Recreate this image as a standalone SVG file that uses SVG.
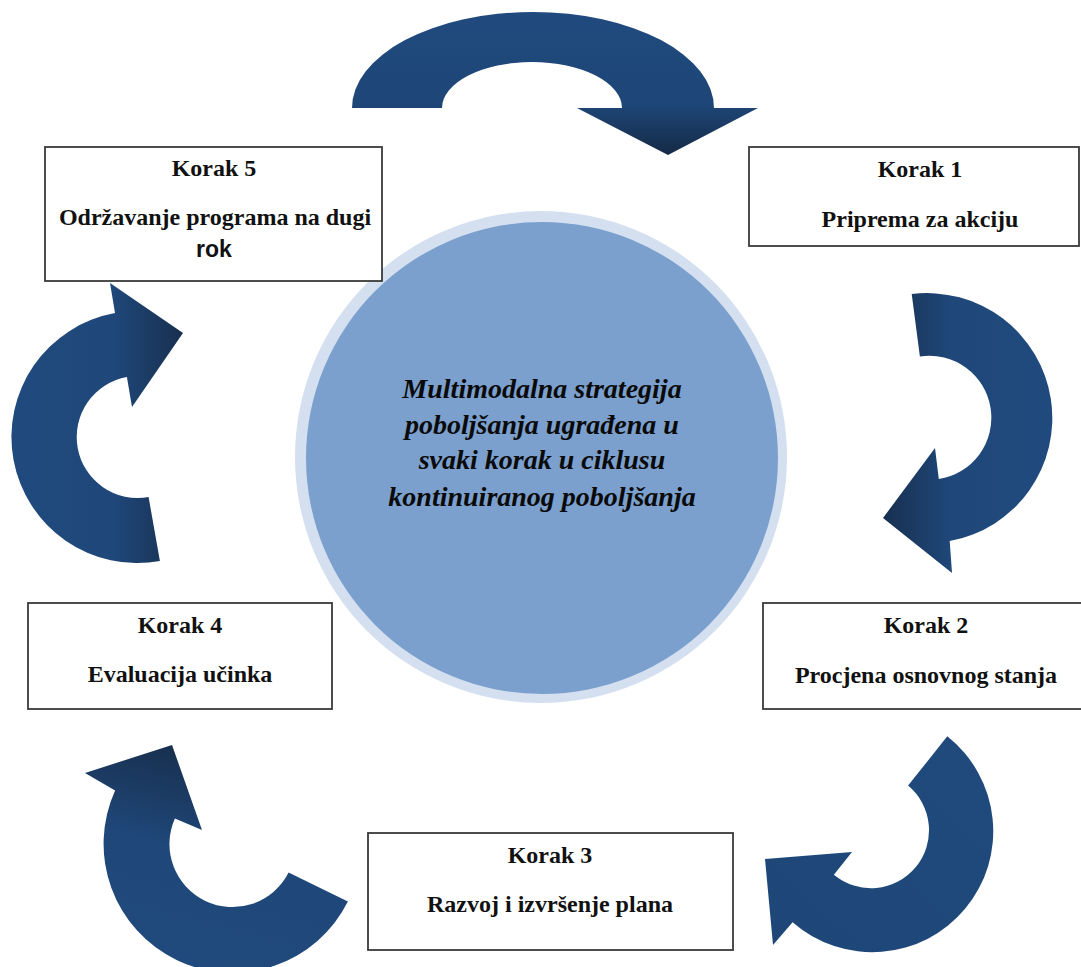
<svg xmlns="http://www.w3.org/2000/svg" width="1081" height="967" viewBox="0 0 1081 967">
  <style>
    .box { fill: #ffffff; stroke: #3a3a3a; stroke-width: 1.8; }
    .lbl { font-family: "Liberation Serif", "Times New Roman", serif; font-weight: bold; font-size: 24px; fill: #111111; text-anchor: middle; }
    .sans { font-family: "Liberation Sans", Arial, sans-serif; font-weight: bold; font-size: 23px; fill: #111111; text-anchor: middle; }
    .ctr { font-family: "Liberation Serif", "Times New Roman", serif; font-weight: bold; font-style: italic; font-size: 28px; fill: #0a0a0a; text-anchor: middle; }
  </style>
  <defs>
    <linearGradient id="gTop" x1="0" y1="0" x2="0" y2="1">
      <stop offset="0" stop-color="#204a7e"/>
      <stop offset="0.65" stop-color="#1e4677"/>
      <stop offset="1" stop-color="#152a46"/>
    </linearGradient>
    <linearGradient id="gRight" x1="1" y1="0" x2="0" y2="0">
      <stop offset="0" stop-color="#204a7e"/>
      <stop offset="0.6" stop-color="#1f4779"/>
      <stop offset="1" stop-color="#17304f"/>
    </linearGradient>
    <linearGradient id="gBR" x1="1" y1="0" x2="0" y2="1">
      <stop offset="0" stop-color="#204a7c"/>
      <stop offset="1" stop-color="#1e4778"/>
    </linearGradient>
    <linearGradient id="gBL" x1="0" y1="1" x2="0.3" y2="0">
      <stop offset="0" stop-color="#204a7e"/>
      <stop offset="0.6" stop-color="#1f4779"/>
      <stop offset="1" stop-color="#18304f"/>
    </linearGradient>
    <linearGradient id="gLeft" x1="0" y1="0" x2="1" y2="0">
      <stop offset="0" stop-color="#204a7e"/>
      <stop offset="0.6" stop-color="#1f4779"/>
      <stop offset="1" stop-color="#18304f"/>
    </linearGradient>
  </defs>
  <rect width="1081" height="967" fill="#ffffff"/>

  <g id="center">
    <circle cx="541" cy="457" r="246" fill="#d4e0f0"/>
    <circle cx="542" cy="458" r="236" fill="#7ba0cd"/>
    <text class="ctr" x="542" y="398">Multimodalna strategija</text>
    <text class="ctr" x="542" y="434">poboljšanja ugrađena u</text>
    <text class="ctr" x="542" y="469">svaki korak u ciklusu</text>
    <text class="ctr" x="542" y="506">kontinuiranog poboljšanja</text>
  </g>

  <g id="connectors">
    <path id="arrow-5-1" fill="url(#gTop)" d="M352,108 A181,96 0 0 1 714,108 L758,108 L668,155 L577,108 L622,108 A90,46 0 0 0 442,108 Z"/>
    <path id="arrow-1-2" fill="url(#gRight)" d="M911.7,294.1 A125,125 0 0 1 949.7,541.1 L952,573 L883,518 L935,448 L938.8,479.1 A62,62 0 0 0 919.9,356.5 Z"/>
    <path id="arrow-2-3" fill="url(#gBR)" d="M947.3,736.3 A121,121 0 1 1 792.6,922.3 L773,945 L765,859 L852,852 L833.9,874.8 A58,58 0 1 0 908.1,785.6 Z"/>
    <path id="arrow-3-4" fill="url(#gBL)" d="M347.9,901.6 A129,129 0 0 1 115.1,790.5 L85,773 L172,745 L202,830 L174.9,818.4 A63,63 0 0 0 288.6,872.6 Z"/>
    <path id="arrow-4-5" fill="url(#gLeft)" d="M159.9,561.1 A126,126 0 0 1 115,313.1 L110,283 L183,333 L132,407 L126.9,377 A61,61 0 0 0 148.6,497.1 Z"/>
  </g>

  <g id="korak5">
    <rect class="box" x="45" y="147" width="337" height="134"/>
    <text class="lbl" x="214" y="176">Korak 5</text>
    <text class="lbl" x="215" y="225">Održavanje programa na dugi</text>
    <text class="sans" x="214" y="257">rok</text>
  </g>
  <g id="korak1">
    <rect class="box" x="749" y="147" width="330" height="99"/>
    <text class="lbl" x="920" y="177">Korak 1</text>
    <text class="lbl" x="920" y="227">Priprema za akciju</text>
  </g>
  <g id="korak2">
    <rect class="box" x="763" y="603" width="330" height="106"/>
    <text class="lbl" x="926" y="633">Korak 2</text>
    <text class="lbl" x="926" y="683">Procjena osnovnog stanja</text>
  </g>
  <g id="korak3">
    <rect class="box" x="368" y="833" width="365" height="117"/>
    <text class="lbl" x="550" y="863">Korak 3</text>
    <text class="lbl" x="550" y="912">Razvoj i izvršenje plana</text>
  </g>
  <g id="korak4">
    <rect class="box" x="28" y="603" width="304" height="106"/>
    <text class="lbl" x="180" y="633">Korak 4</text>
    <text class="lbl" x="180" y="682">Evaluacija učinka</text>
  </g>
</svg>
